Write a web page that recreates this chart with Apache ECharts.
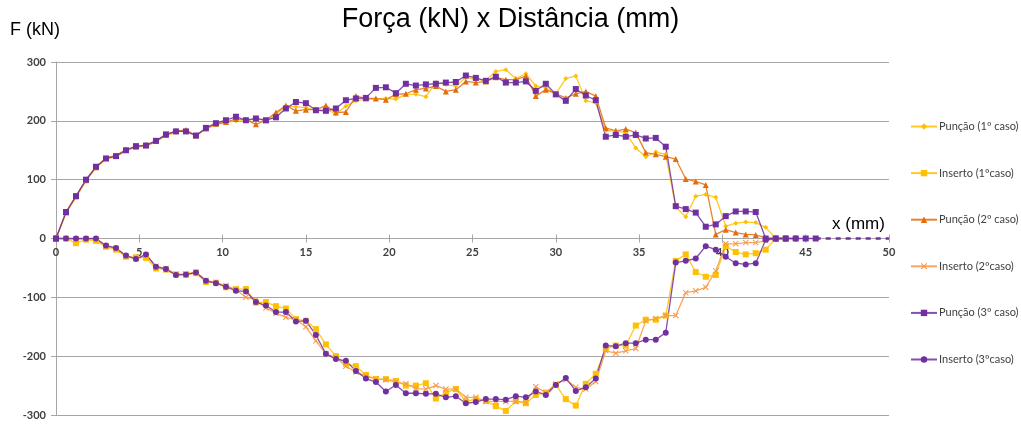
<!DOCTYPE html>
<html>
<head>
<meta charset="utf-8">
<title>Força x Distância</title>
<script src="https://cdn.jsdelivr.net/npm/echarts@6/dist/echarts.min.js"></script>
<style>
    html, body { margin: 0; padding: 0; background: #fff; }
    .grafico { width: 1021px; height: 424px; }
</style>
</head>
<body>
<div class="grafico"></div>
<script>
// distância (mm) de cada leitura
var distancia = [0, 0.6, 1.2, 1.8, 2.4, 3, 3.6, 4.2, 4.8, 5.4, 6, 6.6, 7.2, 7.8, 8.4, 9, 9.6, 10.2, 10.8, 11.4,
    12, 12.6, 13.2, 13.8, 14.4, 15, 15.6, 16.2, 16.8, 17.4, 18, 18.6, 19.2, 19.8, 20.4, 21, 21.6, 22.2, 22.8, 23.4,
    24, 24.6, 25.2, 25.8, 26.4, 27, 27.6, 28.2, 28.8, 29.4, 30, 30.6, 31.2, 31.8, 32.4, 33, 33.6, 34.2, 34.8, 35.4,
    36, 36.6, 37.2, 37.8, 38.4, 39, 39.6, 40.2, 40.8, 41.4, 42, 42.6, 43.2, 43.8, 44.4, 45, 45.6];

// força (kN) de cada caso
var puncao1 = [0, 43, 70, 98, 120, 135, 139, 149, 155, 157, 164, 175, 180, 185, 174, 186, 193, 197, 200, 200,
    204, 200, 211, 225, 224, 222, 218, 219, 212, 225, 234, 237, 237, 238, 237, 245, 245, 241, 265, 262,
    259, 274, 270, 269, 284, 287, 272, 280, 259, 256, 246, 272, 276, 234, 231, 183, 183, 180, 154, 139,
    147, 143, 53, 37, 72, 75, 70, 21, 26, 28, 27, 19, 0, 0];
var inserto1 = [0, 0, -8, -2, -4, -14, -19, -31, -32, -33, -51, -53, -61, -62, -59, -74, -75, -83, -86, -86,
    -109, -108, -115, -119, -137, -140, -154, -180, -200, -213, -217, -232, -239, -239, -242, -250, -250, -246, -272, -262,
    -256, -277, -273, -276, -285, -293, -276, -280, -266, -262, -249, -273, -284, -247, -230, -187, -182, -182, -148, -138,
    -138, -131, -38, -27, -57, -65, -62, -13, -23, -27, -25, -19, 0, 0];
var puncao2 = [0, 44, 72, 99, 121, 137, 141, 151, 156, 159, 166, 176, 183, 184, 175, 187, 195, 198, 203, 202,
    194, 201, 214, 226, 217, 219, 219, 226, 214, 215, 242, 238, 238, 236, 245, 246, 253, 255, 259, 250,
    253, 267, 265, 267, 274, 270, 270, 276, 242, 253, 246, 239, 246, 250, 242, 188, 183, 186, 180, 146,
    143, 139, 135, 101, 97, 91, 7, 15, 10, 7, 6, 1, 0, 0];
var inserto2 = [0, 0, -1, 0, -1, -13, -17, -30, -34, -28, -47, -51, -61, -60, -57, -71, -75, -80, -87, -100,
    -104, -118, -127, -134, -138, -150, -174, -196, -202, -217, -227, -234, -239, -240, -244, -247, -255, -256, -250, -256,
    -256, -270, -270, -277, -277, -277, -277, -279, -252, -262, -247, -240, -253, -256, -243, -191, -195, -191, -187, -140,
    -136, -131, -131, -92, -89, -83, -55, -9, -9, -7, -7, -4, 0, 0];
var puncao3 = [0, 45, 72, 100, 122, 136, 140, 150, 157, 158, 166, 177, 182, 182, 175, 188, 196, 201, 207, 201,
    204, 201, 206, 221, 232, 230, 218, 217, 221, 235, 238, 239, 256, 257, 247, 263, 260, 262, 263, 265,
    266, 277, 273, 268, 275, 265, 265, 267, 251, 263, 245, 234, 254, 243, 235, 173, 176, 173, 176, 170,
    171, 156, 55, 50, 44, 20, 24, 38, 46, 46, 45, 0, 0, 0, 0, 0, 0];
var inserto3 = [0, 0, 0, 0, 0, -12, -16, -29, -35, -27, -48, -52, -62, -61, -58, -72, -76, -82, -89, -90,
    -108, -114, -125, -125, -141, -140, -164, -196, -205, -208, -225, -238, -244, -260, -249, -263, -263, -264, -264, -270,
    -268, -280, -278, -273, -273, -274, -268, -270, -260, -266, -249, -237, -259, -253, -238, -182, -183, -178, -178, -172,
    -172, -160, -41, -38, -34, -13, -19, -31, -42, -44, -42, -2, 0, 0, 0];

// prolongamento tracejado até 50 mm
var tracejadoX = [45.6, 50];
var tracejadoY = [0, 0];

var nomes = ['Punção (1º caso)', 'Inserto (1ºcaso)', 'Punção (2º caso)', 'Inserto (2ºcaso)', 'Punção (3º caso)', 'Inserto (3ºcaso)'];

// junta distância + força
function pares(xs, ys) {
    var out = [];
    for (var i = 0; i < ys.length; i++) {
        out.push([xs[i], ys[i]]);
    }
    return out;
}

var simboloX = 'path://M0,1.2 L1.2,0 L5,3.8 L8.8,0 L10,1.2 L6.2,5 L10,8.8 L8.8,10 L5,6.2 L1.2,10 L0,8.8 L3.8,5 Z';

function serie(nome, dados, cor, simbolo, tamanho) {
    return {
        name: nome,
        type: 'line',
        data: pares(distancia, dados),
        symbol: simbolo,
        symbolSize: tamanho,
        showSymbol: true,
        color: cor,
        lineStyle: { width: 1.3, color: cor, opacity: 0.85 },
        itemStyle: { color: cor },
        animation: false
    };
}

var grafico = echarts.init(document.querySelector('.grafico'));

var corEixo = '#a6a6a6';
var corTexto = '#404040';
// o eixo x cruza o gráfico no zero (meio da altura do grid)
var deslocZero = -176.5;

var option = {
    backgroundColor: '#fff',
    title: {
        text: 'Força (kN) x Distância (mm)',
        left: 'center',
        top: 1,
        textStyle: { fontFamily: 'Liberation Sans', fontSize: 27, fontWeight: 'normal', color: '#000' }
    },
    graphic: [
        { type: 'text', left: 10, top: 21, style: { text: 'F (kN)', fontFamily: 'Liberation Sans', fontSize: 18, fill: '#000' } },
        { type: 'text', left: 832, top: 216, style: { text: 'x (mm)', fontFamily: 'Liberation Sans', fontSize: 17, fill: '#000' } }
    ],
    legend: {
        data: nomes,
        orient: 'vertical',
        left: 905,
        top: 116,
        itemWidth: 26,
        itemHeight: 8,
        itemGap: 35.6,
        textStyle: { fontFamily: 'Lato', fontSize: 11, color: corTexto, padding: [0, 0, 0, -3] }
    },
    grid: { left: 56, right: 132, top: 62, bottom: 9, containLabel: false },
    xAxis: [{
        type: 'value',
        min: 0,
        max: 50,
        interval: 5,
        position: 'bottom',
        offset: deslocZero,
        axisLine: { onZero: false, lineStyle: { color: corEixo, width: 1 } },
        axisTick: { show: true, length: 4, lineStyle: { color: corEixo } },
        axisLabel: { fontFamily: 'Lato', fontSize: 11, fontWeight: 'bold', color: corTexto, margin: 8 },
        splitLine: { show: false }
    }, {
        // marcas para dentro, para cruzar a linha do eixo
        type: 'value',
        min: 0,
        max: 50,
        interval: 5,
        position: 'bottom',
        offset: deslocZero,
        axisLine: { show: false, onZero: false },
        axisTick: { show: true, inside: true, length: 4, lineStyle: { color: corEixo } },
        axisLabel: { show: false },
        splitLine: { show: false }
    }],
    yAxis: {
        type: 'value',
        min: -300,
        max: 300,
        interval: 100,
        axisLine: { show: true, onZero: false, lineStyle: { color: corEixo, width: 1 } },
        axisTick: { show: true, length: 5, lineStyle: { color: corEixo } },
        axisLabel: { fontFamily: 'Lato', fontSize: 11, fontWeight: 'bold', color: corTexto, margin: 10 },
        splitLine: { show: true, lineStyle: { color: corEixo, width: 1.2 } }
    },
    series: [
        serie(nomes[0], puncao1, '#ffc000', 'diamond', 5),
        serie(nomes[1], inserto1, '#ffc000', 'rect', 6),
        serie(nomes[2], puncao2, '#e46c0a', 'triangle', 6),
        serie(nomes[3], inserto2, '#f79646', simboloX, 6),
        serie(nomes[4], puncao3, '#7030a0', 'rect', 6),
        serie(nomes[5], inserto3, '#7030a0', 'circle', 6),
        {
            name: 'tracejado',
            type: 'line',
            data: pares(tracejadoX, tracejadoY),
            showSymbol: false,
            symbol: 'none',
            z: 10,
            lineStyle: { color: '#7030a0', width: 2.4, type: [5, 5] },
            animation: false
        }
    ]
};

grafico.setOption(option);
</script>
</body>
</html>
